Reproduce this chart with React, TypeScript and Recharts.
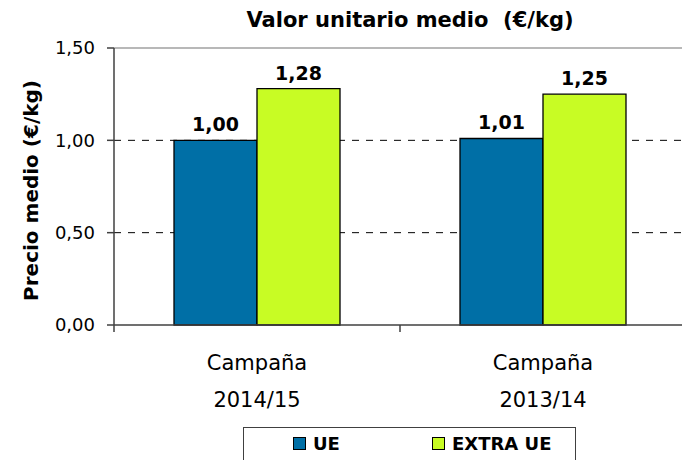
import { Bar, BarChart, CartesianGrid, LabelList, ReferenceLine, XAxis, YAxis } from "recharts";

const categories = ["Campaña 2014/15", "Campaña 2013/14"];
const ueValues = [1.0, 1.01];
const extraUeValues = [1.28, 1.25];
const yTicks = [0, 0.5, 1, 1.5];
const gridValues = [0.5, 1];
const seriesKeys = ["ue", "extra"];
const seriesNames = ["UE", "EXTRA UE"];
const seriesColors = ["#006FA6", "#C8FC24"];

const data = categories.map((name, i) => ({ name, ue: ueValues[i], extra: extraUeValues[i] }));

const fmt = (v: number) => Number(v).toFixed(2).replace(".", ",");

function CategoryTick({ x, y, payload }: any) {
  const [first, second] = String(payload.value).split(" ");
  const left = x - (payload.offset ?? 0);
  return (
    <g>
      <line x1={left} x2={left} y1={y - 8} y2={y - 1} stroke="#404040" strokeWidth={1.5} />
      <text x={x} y={y + 37} textAnchor="middle" fontSize={21} fill="#000">
        {first}
      </text>
      <text x={x} y={y + 74} textAnchor="middle" fontSize={21} fill="#000">
        {second}
      </text>
    </g>
  );
}

export default function App() {
  return (
    <div
      style={{
        position: "absolute",
        left: 0,
        top: 0,
        width: 682,
        height: 460,
        overflow: "hidden",
        background: "#fff",
        fontFamily: "'DejaVu Sans', sans-serif",
      }}
    >
      <div
        style={{
          position: "absolute",
          left: 0,
          top: 8,
          width: 820,
          textAlign: "center",
          fontWeight: "bold",
          fontSize: 21,
          whiteSpace: "pre",
        }}
      >
        Valor unitario medio  (€/kg)
      </div>
      <BarChart
        width={700}
        height={460}
        data={data}
        margin={{ top: 48, right: 14, bottom: 0, left: 0 }}
        barGap={0}
      >
        <CartesianGrid
          vertical={false}
          horizontalValues={gridValues}
          syncWithTicks
          stroke="#000"
          strokeDasharray="7 7"
        />
        <ReferenceLine y={1.5} stroke="#A0A0A0" strokeWidth={1.5} />
        <XAxis
          dataKey="name"
          height={135}
          tick={<CategoryTick />}
          tickLine={false}
          axisLine={{ stroke: "#404040", strokeWidth: 1.5 }}
          interval={0}
        />
        <YAxis
          width={114}
          domain={[0, 1.5]}
          ticks={yTicks}
          tickFormatter={fmt}
          tick={{ fontSize: 18, fill: "#000" }}
          tickSize={7}
          tickMargin={12}
          tickLine={{ stroke: "#404040", strokeWidth: 1.5 }}
          axisLine={{ stroke: "#404040", strokeWidth: 1.5 }}
          label={{
            value: "Precio medio (€/kg)",
            angle: -90,
            position: "center",
            dx: -26,
            dy: 4,
            style: { fontWeight: "bold", fontSize: 20, fill: "#000" },
          }}
        />
        {seriesKeys.map((key, i) => (
          <Bar
            key={key}
            dataKey={key}
            name={seriesNames[i]}
            fill={seriesColors[i]}
            stroke="#000"
            strokeWidth={1.3}
            barSize={83}
            isAnimationActive={false}
          >
            <LabelList
              dataKey={key}
              position="top"
              offset={9}
              formatter={fmt as any}
              fill="#000"
              fontSize={19}
              fontWeight="bold"
            />
          </Bar>
        ))}
      </BarChart>
      <div
        style={{
          position: "absolute",
          left: 243,
          top: 427,
          width: 333,
          height: 40,
          border: "1px solid #404040",
          display: "flex",
          paddingLeft: 49,
          boxSizing: "border-box",
          paddingTop: 5,
        }}
      >
        {seriesNames.map((name, i) => (
          <div key={name} style={{ display: "flex", alignItems: "center", width: 139, height: 20 }}>
            <span
              style={{
                display: "inline-block",
                width: 11,
                height: 11,
                background: seriesColors[i],
                border: "1.5px solid #000",
                marginRight: 7,
              }}
            />
            <span style={{ fontWeight: "bold", fontSize: 18 }}>{name}</span>
          </div>
        ))}
      </div>
    </div>
  );
}
